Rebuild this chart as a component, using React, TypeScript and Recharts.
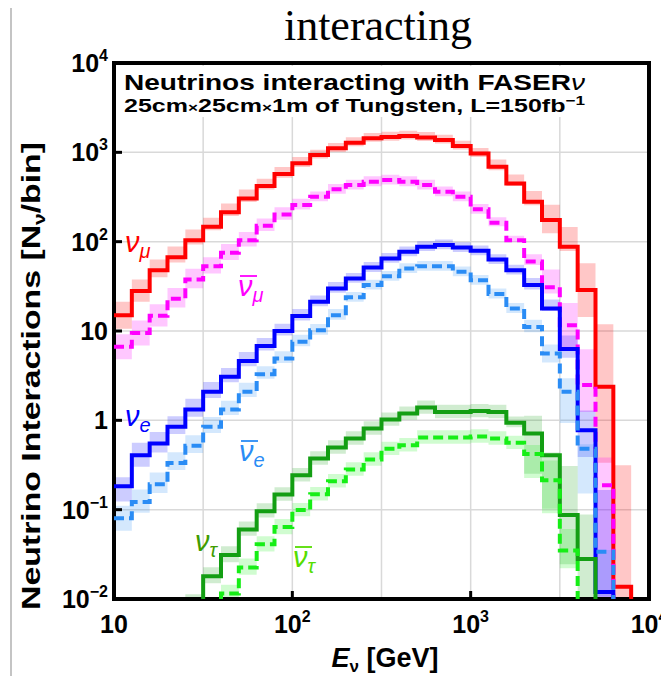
import React from 'react';
import { ComposedChart, Line, Area, XAxis, YAxis, CartesianGrid, ReferenceArea } from 'recharts';

// bin edges in GeV (10 bins per decade)
const binEdges = [10, 12.59, 15.85, 19.95, 25.12, 31.62, 39.81, 50.12, 63.1, 79.43, 100, 125.9, 158.5, 199.5, 251.2, 316.2, 398.1, 501.2, 631, 794.3, 1000, 1259, 1585, 1995, 2512, 3162, 3981, 5012, 6310, 7943, 10000];

const xTicks = [10, 31.62, 100, 316.2, 1000, 3162, 10000];
const yTicks = [0.01, 0.1, 1, 10, 100, 1000, 10000];

// interactions per bin (0.001 = below the frame)
const numu = [15, 28, 48, 67, 104, 147, 213, 305, 420, 571, 753, 933, 1109, 1282, 1436, 1480, 1523, 1470, 1374, 1177, 973, 690, 449, 280, 175, 88, 28.7, 2.37, 0.0137, 0.001];
const numubar = [6.65, 9.5, 14.8, 23, 37.8, 53, 75, 104, 151, 202, 257, 318, 385, 430, 469, 490, 469, 430, 362, 318, 230, 163, 104, 60, 30.8, 11.6, 2.48, 0.188, 0.001, 0.001];
const nue = [0.183, 0.407, 0.55, 0.845, 1.32, 2.09, 3.07, 4.63, 6.8, 10, 14.7, 21.2, 30, 38.8, 51.5, 65, 77, 88, 92, 86, 79, 63, 48, 32.7, 17.9, 6.3, 0.776, 0.012, 0.001, 0.001];
const nuebar = [0.08, 0.122, 0.193, 0.334, 0.518, 0.845, 1.32, 2.09, 3.27, 4.93, 7.57, 10.2, 15, 23.8, 32.7, 41, 50, 53, 53, 46, 37, 26, 17.9, 11.1, 5.6, 2.09, 0.48, 0.0337, 0.001, 0.001];
const nutau = [0.001, 0.001, 0.001, 0.001, 0.008, 0.018, 0.031, 0.06, 0.096, 0.148, 0.243, 0.374, 0.497, 0.626, 0.81, 1.02, 1.19, 1.39, 1.24, 1.24, 1.27, 1.24, 0.94, 0.71, 0.407, 0.087, 0.028, 0.001, 0.001, 0.001];
const nutaubar = [0.001, 0.001, 0.001, 0.001, 0.001, 0.001, 0.0115, 0.0225, 0.041, 0.064, 0.099, 0.149, 0.208, 0.282, 0.365, 0.48, 0.527, 0.643, 0.643, 0.643, 0.66, 0.626, 0.56, 0.42, 0.214, 0.035, 0.001, 0.001, 0.001, 0.001];

// uncertainty band, decades above / below the line
const numuUp = [0.15, 0.13, 0.12, 0.12, 0.12, 0.1, 0.1, 0.1, 0.08, 0.08, 0.07, 0.06, 0.06, 0.06, 0.06, 0.06, 0.06, 0.06, 0.06, 0.06, 0.06, 0.08, 0.1, 0.12, 0.17, 0.22, 0.3, 0.7, 1.36, 0];
const numuDn = [0.15, 0.12, 0.08, 0.06, 0.05, 0.04, 0.04, 0.04, 0.04, 0.04, 0.04, 0.04, 0.04, 0.04, 0.04, 0.04, 0.04, 0.04, 0.04, 0.04, 0.04, 0.04, 0.03, 0.04, 0.15, 0.05, 0.3, 0.85, 0.12, 0];
const numubarUp = [0.14, 0.14, 0.13, 0.12, 0.12, 0.1, 0.1, 0.09, 0.08, 0.08, 0.07, 0.06, 0.06, 0.06, 0.06, 0.06, 0.06, 0.06, 0.06, 0.06, 0.06, 0.06, 0.05, 0.08, 0.2, 0.25, 0.4, 0.31, 0, 0];
const numubarDn = [0.14, 0.14, 0.12, 0.1, 0.1, 0.08, 0.08, 0.07, 0.06, 0.06, 0.05, 0.05, 0.05, 0.05, 0.05, 0.05, 0.05, 0.05, 0.05, 0.05, 0.05, 0.04, 0.02, 0.04, 0.07, 0.25, 0.3, 1.26, 0, 0];
const nueUp = [0.1, 0.14, 0.13, 0.12, 0.12, 0.11, 0.1, 0.1, 0.09, 0.08, 0.08, 0.07, 0.07, 0.06, 0.06, 0.06, 0.06, 0.06, 0.06, 0.06, 0.06, 0.06, 0.06, 0.08, 0.1, 0.15, 0.22, 1.14, 0, 0];
const nueDn = [0.17, 0.13, 0.1, 0.08, 0.08, 0.07, 0.06, 0.06, 0.05, 0.05, 0.05, 0.05, 0.05, 0.05, 0.05, 0.05, 0.05, 0.05, 0.05, 0.05, 0.05, 0.05, 0.05, 0.05, 0.03, 0.1, 0.3, 0.06, 0, 0];
const nuebarUp = [0.14, 0.14, 0.13, 0.12, 0.12, 0.11, 0.1, 0.1, 0.09, 0.08, 0.08, 0.07, 0.07, 0.06, 0.06, 0.06, 0.06, 0.06, 0.06, 0.06, 0.06, 0.06, 0.06, 0.08, 0.1, 0.15, 0.05, 0.02, 0, 0];
const nuebarDn = [0.14, 0.12, 0.1, 0.08, 0.08, 0.07, 0.06, 0.06, 0.05, 0.05, 0.05, 0.05, 0.05, 0.05, 0.05, 0.05, 0.05, 0.05, 0.05, 0.05, 0.05, 0.05, 0.05, 0.06, 0.1, 0.35, 0.5, 0.5, 0, 0];
const nutauUp = [0, 0, 0, 0, 0.15, 0.1, 0.1, 0.09, 0.09, 0.08, 0.08, 0.08, 0.08, 0.08, 0.08, 0.08, 0.08, 0.08, 0.08, 0.08, 0.08, 0.08, 0.07, 0.2, 0.03, 0.55, 0.5, 0, 0, 0];
const nutauDn = [0, 0, 0, 0, 0.1, 0.08, 0.08, 0.07, 0.07, 0.07, 0.07, 0.07, 0.07, 0.07, 0.07, 0.07, 0.07, 0.07, 0.07, 0.07, 0.07, 0.07, 0.05, 0.45, 0.6, 0.55, 0.45, 0, 0, 0];
const nutaubarUp = [0, 0, 0, 0, 0, 0, 0.1, 0.1, 0.09, 0.09, 0.08, 0.08, 0.08, 0.08, 0.08, 0.08, 0.08, 0.08, 0.08, 0.08, 0.08, 0.08, 0.08, 0.1, 0.22, 0.24, 0, 0, 0, 0];
const nutaubarDn = [0, 0, 0, 0, 0, 0, 0.1, 0.08, 0.08, 0.08, 0.07, 0.07, 0.07, 0.07, 0.07, 0.07, 0.07, 0.07, 0.07, 0.07, 0.07, 0.07, 0.07, 0.27, 0.37, 0.2, 0, 0, 0, 0];

const series = [
  { key: 'numu', vals: numu, up: numuUp, dn: numuDn, color: '#ff0000', dash: undefined, op: 0.22 },
  { key: 'numubar', vals: numubar, up: numubarUp, dn: numubarDn, color: '#ff00ff', dash: '10 5', op: 0.22 },
  { key: 'nue', vals: nue, up: nueUp, dn: nueDn, color: '#0000ff', dash: undefined, op: 0.2 },
  { key: 'nuebar', vals: nuebar, up: nuebarUp, dn: nuebarDn, color: '#2a8cf5', dash: '10 5', op: 0.2 },
  { key: 'nutau', vals: nutau, up: nutauUp, dn: nutauDn, color: '#139e13', dash: undefined, op: 0.2 },
  { key: 'nutaubar', vals: nutaubar, up: nutaubarUp, dn: nutaubarDn, color: '#16ee16', dash: '10 5', op: 0.2 },
];

const data = binEdges.map((e, i) => {
  const b = Math.min(i, binEdges.length - 2);
  const row: any = { e };
  series.forEach((s) => {
    const v = s.vals[b];
    row[s.key] = v;
    row[s.key + 'Band'] = [v / Math.pow(10, s.dn[b]), v * Math.pow(10, s.up[b])];
  });
  return row;
});

const FONT = "'Liberation Sans', Arial, sans-serif";

const powLabel = (p: number, supSize: number, dy: number) => {
  if (p === 0) return '1';
  if (p === 1) return '10';
  return [
    <tspan key="b">10</tspan>,
    <tspan key="e" dy={dy} fontSize={supSize}>{p < 0 ? '\u2212' + -p : String(p)}</tspan>,
  ];
};

const XTick = (props: any) => {
  const { x, y, payload } = props;
  const lg = Math.log10(payload.value);
  const p = Math.round(lg);
  if (Math.abs(lg - p) > 0.01) return <g />;
  return (
    <g>
      {p > 1 && p < 4 && <line x1={x} x2={x} y1={y} y2={y - 8} stroke="#000" strokeWidth={3} />}
      <text x={x} y={y + 34} textAnchor="middle" fontFamily={FONT} fontWeight="bold" fontSize={25} fill="#000">
        {powLabel(p, 16, -11)}
      </text>
    </g>
  );
};

const YTick = (props: any) => {
  const { x, y, payload } = props;
  const p = Math.round(Math.log10(payload.value));
  return (
    <g>
      {p > -2 && p < 4 && <line x1={x} x2={x + 8} y1={y} y2={y} stroke="#000" strokeWidth={3} />}
      <text x={x - 6} y={y + 9} textAnchor="end" fontFamily={FONT} fontWeight="bold" fontSize={25} fill="#000">
        {powLabel(p, 16, -11)}
      </text>
    </g>
  );
};

const NuLabel = ({ x, y, color, sub, bar }: any) => (
  <g>
    {bar && <line x1={x + 2} x2={x + 19} y1={y - 20} y2={y - 20} stroke={color} strokeWidth={1.8} />}
    <text x={x} y={y} fill={color} fontFamily={FONT} fontStyle="italic" fontSize={29}>
      ν<tspan dy={6} fontSize={20}>{sub}</tspan>
    </text>
  </g>
);

export default function App() {
  return (
    <div style={{ position: 'absolute', left: 0, top: 0, width: 661, height: 676, background: '#fff' }}>
      <ComposedChart width={661} height={676} data={data} margin={{ top: 63, right: 12, bottom: 0, left: 0 }}>
        <CartesianGrid stroke="#d9d9d9" strokeWidth={1.5} />
        <XAxis
          dataKey="e"
          type="number"
          scale="log"
          domain={[10, 10000]}
          ticks={xTicks}
          interval={0}
          allowDataOverflow
          axisLine={false}
          tickLine={false}
          tickSize={0}
          tickMargin={0}
          height={77}
          tick={<XTick />}
        />
        <YAxis
          type="number"
          scale="log"
          domain={[0.01, 10000]}
          ticks={yTicks}
          interval={0}
          allowDataOverflow
          axisLine={false}
          tickLine={false}
          tickSize={0}
          tickMargin={0}
          width={114}
          tick={<YTick />}
        />
        {series.map((s) => (
          <Area
            key={s.key + 'Band'}
            dataKey={s.key + 'Band'}
            type="stepAfter"
            stroke="none"
            fill={s.color}
            fillOpacity={s.op}
            dot={false}
            activeDot={false}
            isAnimationActive={false}
          />
        ))}
        {series.map((s) => (
          <Line
            key={s.key}
            dataKey={s.key}
            type="stepAfter"
            stroke={s.color}
            strokeWidth={4}
            strokeDasharray={s.dash}
            dot={false}
            activeDot={false}
            isAnimationActive={false}
          />
        ))}
        <ReferenceArea x1={10} x2={10000} y1={0.01} y2={10000} fill="none" stroke="#000" strokeWidth={4} ifOverflow="visible" />
      </ComposedChart>
      <svg width={661} height={676} style={{ position: 'absolute', left: 0, top: 0, pointerEvents: 'none' }}>
        <line x1={11} x2={11} y1={8} y2={676} stroke="#b0b0b0" strokeWidth={1.5} />
        <text x={378} y={40} textAnchor="middle" fontFamily="'Liberation Serif', 'Times New Roman', serif" fontSize={44} fill="#000">
          interacting
        </text>
        <rect x={117} y={66} width={529} height={51} fill="#fff" />
        <text x={124} y={90} fontFamily={FONT} fontWeight="bold" fontSize={22} fill="#000" textLength={461} lengthAdjust="spacingAndGlyphs">
          Neutrinos interacting with FASER<tspan fontStyle="italic" fontWeight="normal">ν</tspan>
        </text>
        <text x={124} y={112} fontFamily={FONT} fontWeight="bold" fontSize={19} fill="#000" textLength={461} lengthAdjust="spacingAndGlyphs">
          25cm<tspan fontSize={13}>×</tspan>25cm<tspan fontSize={13}>×</tspan>1m of Tungsten, L=150fb<tspan dy={-7} fontSize={13}>−1</tspan>
        </text>
        <text transform="translate(40,376) rotate(-90)" textAnchor="middle" fontFamily={FONT} fontWeight="bold" fontSize={26} fill="#000" textLength={468} lengthAdjust="spacingAndGlyphs">
          Neutrino Interactions [N<tspan fontSize={16} dy={5}>ν</tspan><tspan dy={-5}>/bin]</tspan>
        </text>
        <text x={385} y={667} textAnchor="middle" fontFamily={FONT} fontWeight="bold" fontSize={27} fill="#000">
          <tspan fontStyle="italic">E</tspan><tspan fontSize={17} dy={5}>ν</tspan><tspan dy={-5}> [GeV]</tspan>
        </text>
        <NuLabel x={125} y={252} color="#ff0000" sub="μ" />
        <NuLabel x={238} y={296} color="#ff00ff" sub="μ" bar />
        <NuLabel x={125} y={426} color="#0000ff" sub="e" />
        <NuLabel x={239} y={461} color="#2a8cf5" sub="e" bar />
        <NuLabel x={195} y={551} color="#3f9c00" sub="τ" />
        <NuLabel x={293} y={567} color="#55dd00" sub="τ" bar />
      </svg>
    </div>
  );
}
